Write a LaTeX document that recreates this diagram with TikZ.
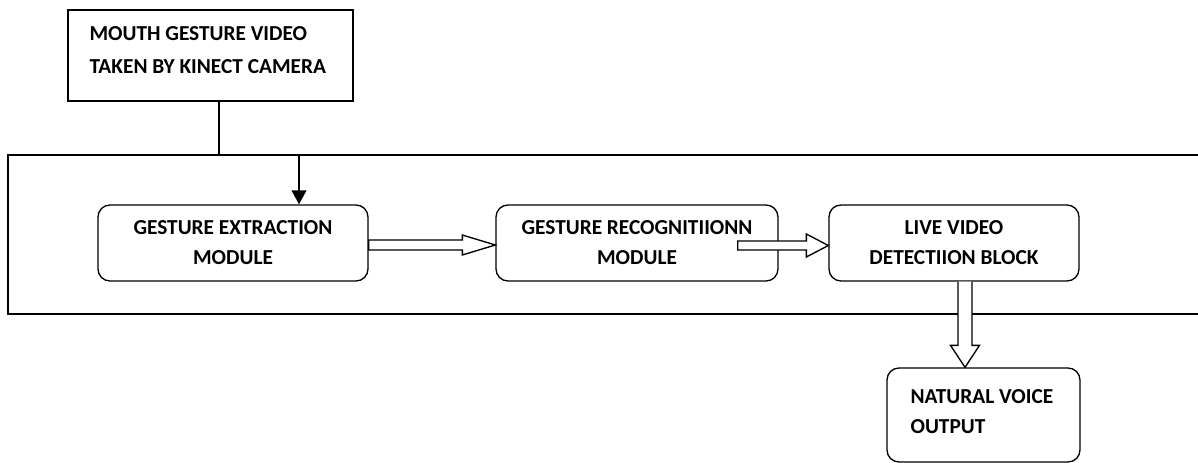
\documentclass[tikz,border=0pt]{standalone}
\usepackage{fontspec}
\setmainfont{Carlito}[BoldFont={Carlito Bold}]
\usetikzlibrary{calc,arrows.meta}
\begin{document}
\begin{tikzpicture}[x=0.75pt,y=-0.75pt,
  txt/.style={font=\bfseries\fontsize{16}{22.5}\selectfont},
  sqbox/.style={draw,line width=1pt,inner sep=0pt},
  rbox/.style={draw,line width=1pt,rounded corners=9pt,inner sep=0pt,align=center,txt},
  hollow/.style={draw,line width=1pt,fill=white,line join=miter},
  conn/.style={draw,line width=1.6pt,-{Triangle[length=10.5pt,width=11pt]}}]
\useasboundingbox (0,0) rectangle (1198,463);
% system frame (open on the right)
\coordinate (sysTL) at (8,155);
\coordinate (sysBR) at (1215,314);
\draw[line width=1.2pt] (sysTL) rectangle (sysBR);
% nodes
\node[sqbox,minimum width=213.75pt,minimum height=68.25pt] (top) at (210.5,55.5) {};
\node[txt,align=left,anchor=west,inner sep=0pt,font=\bfseries\fontsize{16}{24.75}\selectfont] (toptxt) at ($(top.west)+(22,-5)$)
  {MOUTH GESTURE VIDEO\\TAKEN BY KINECT CAMERA};
\node[rbox,minimum width=202.5pt,minimum height=57pt] (g1) at (233,243) {GESTURE EXTRACTION\\MODULE};
\node[rbox,minimum width=211.5pt,minimum height=57pt] (g2) at (637,243) {GESTURE RECOGNITIIONN\\MODULE};
\node[rbox,minimum width=187.5pt,minimum height=57pt] (g3) at (954,243) {LIVE VIDEO\\DETECTIION BLOCK};
\node[rbox,minimum width=144.75pt,minimum height=70.5pt] (nv) at (983.5,415) {};
\node[txt,align=left,anchor=west,inner sep=0pt] (nvtxt) at ($(nv.west)+(24,-3.5)$)
  {NATURAL VOICE\\OUTPUT};
% L connector
\coordinate (c0) at ($(top.south)+(8.5,0)$);
\coordinate (c1) at (c0 |- sysTL);
\coordinate (c2) at (299,155);
\draw[conn] (c0) -- (c1) -- (c2) -- (c2 |- g1.north);
% hollow arrow 1
\coordinate (a1s) at ($(g1.east)+(0,2)$);
\coordinate (a1e) at ($(g2.west)+(0,2)$);
\draw[hollow] ($(a1s)+(0,-5)$) -- ($(a1e)+(-33,-5)$) -- ($(a1e)+(-33,-10)$) -- (a1e)
  -- ($(a1e)+(-33,10)$) -- ($(a1e)+(-33,5)$) -- ($(a1s)+(0,5)$) -- cycle;
% hollow arrow 2
\coordinate (a2s) at ($(g2.east)+(-41,2.5)$);
\coordinate (a2e) at ($(g3.west)+(0,2.5)$);
\draw[hollow] ($(a2s)+(0,-4.5)$) -- ($(a2e)+(-22,-4.5)$) -- ($(a2e)+(-22,-11.5)$) -- (a2e)
  -- ($(a2e)+(-22,11.5)$) -- ($(a2e)+(-22,4.5)$) -- ($(a2s)+(0,4.5)$) -- cycle;
% hollow arrow 3 (down)
\coordinate (a3s) at ($(g3.south)+(11,0)$);
\coordinate (a3e) at (a3s |- nv.north);
\draw[hollow] ($(a3s)+(-7,0)$) -- ($(a3e)+(-7,-22)$) -- ($(a3e)+(-14.5,-22)$) -- (a3e)
  -- ($(a3e)+(14.5,-22)$) -- ($(a3e)+(7,-22)$) -- ($(a3s)+(7,0)$);
\end{tikzpicture}
\end{document}
